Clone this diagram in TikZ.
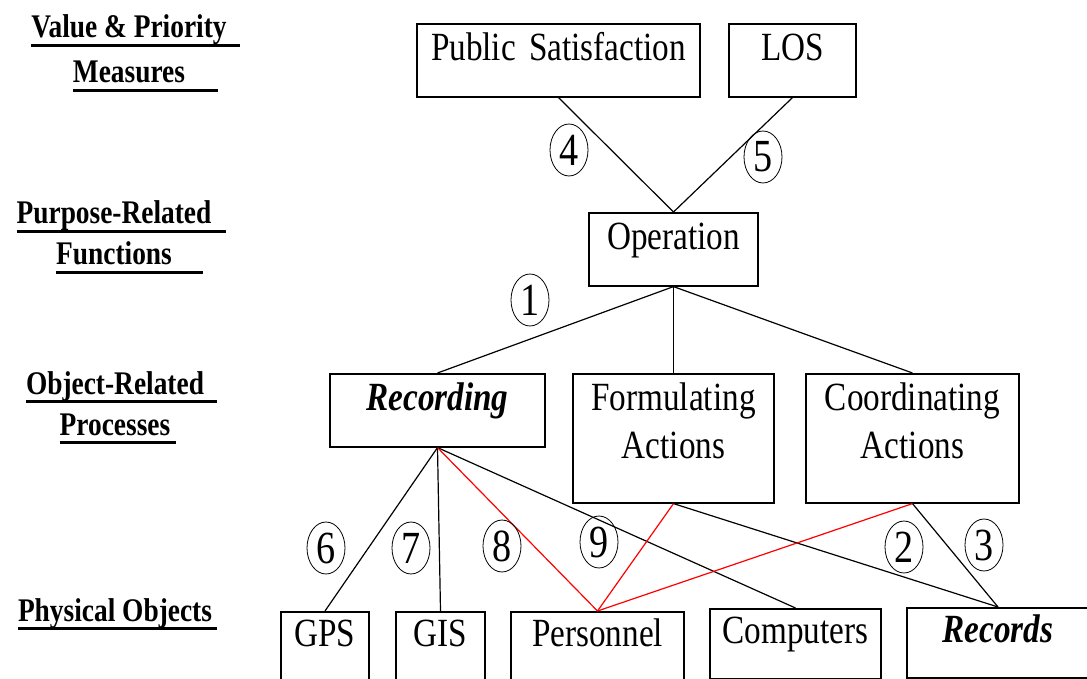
\documentclass[tikz,border=0pt]{standalone}
\usepackage{fontspec}
\setmainfont{Liberation Serif}[FakeStretch=0.83]
\usetikzlibrary{shapes.geometric}

\newcommand{\uline}[2]{\rlap{\rule[-9pt]{#1}{3pt}}#2}

\begin{document}
\begin{tikzpicture}[x=1pt,y=-1pt,
	box/.style={draw,line width=1.6pt,inner sep=0pt,anchor=north,align=center,text width=#1,text height=37pt,text depth=36pt,font=\fontsize{40}{48}\selectfont},
	low/.style={text height=35pt,text depth=35pt},
	num/.style={draw,ellipse,line width=.8pt,minimum width=38pt,minimum height=52pt,inner sep=0pt,font=\fontsize{46}{48}\selectfont},
	level/.style={anchor=base,align=center,font=\bfseries\fontsize{33}{41}\selectfont},
	link/.style={line width=1.2pt}]
	\useasboundingbox (0,0) rectangle (1087,679);
	% level names on the left (base = last line)
	\node[level] (vpm) at (129,83) {\uline{209pt}{Value \& Priority}\\[4pt]\uline{145pt}{Measures}};
	\node[level] (prf) at (114,265) {\uline{209pt}{Purpose-Related}\\\uline{147pt}{Functions}};
	\node[level] (orp) at (115,435) {\uline{191pt}{Object-Related}\\\uline{116pt}{Processes}};
	\node[level] (pho) at (115,621) {\uline{199pt}{Physical Objects}};
	% boxes
	\node[box=283pt] (ps) at (558.5,23) {Public Satisfaction};
	\node[box=127pt] (los) at (792.5,23) {LOS};
	\node[box=169pt] (op) at (673.5,212) {Operation};
	\node[box=215pt] (rec) at (437.5,373) {\bfseries\itshape Recording};
	\node[box=201pt,text depth=92pt] (form) at (673.5,373) {Formulating\\Actions};
	\node[box=213pt,text depth=92pt] (coord) at (912.5,373) {Coordinating\\Actions};
	\node[box=88pt,low] (gps) at (325,611) {GPS};
	\node[box=89pt,low] (gis) at (440.5,611) {GIS};
	\node[box=173pt,low] (pers) at (597.5,611) {Personnel};
	\node[box=171pt,low] (comp) at (795.5,608) {Computers};
	\node[box=182pt,low] (rcd) at (998,607) {\bfseries\itshape Records};
	% links
	\foreach \a/\b in {ps/op,los/op,op/rec,op/form,op/coord,rec/gps,rec/gis,rec/comp,form/rcd,coord/rcd}
		\draw[link] (\a.south) -- (\b.north);
	\foreach \a in {rec,form,coord}
		\draw[link,red] (\a.south) -- (pers.north);
	% numbers
	\foreach \n/\x/\y in {4/569/150,5/763/157,1/530/300,6/326/548,7/411/548,8/502/546,9/599/542,2/904/547,3/984/545}
		\node[num] (c\n) at (\x,\y) {\n};
\end{tikzpicture}
\end{document}
